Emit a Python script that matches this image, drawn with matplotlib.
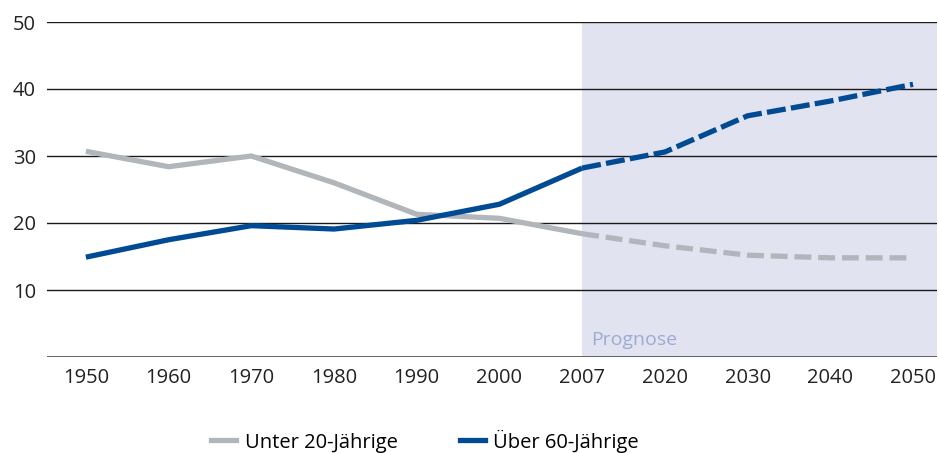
import matplotlib
matplotlib.use("Agg")
import matplotlib.pyplot as plt
from matplotlib.lines import Line2D

plt.rcParams['font.family'] = ['Open Sans', 'DejaVu Sans']

years = ["1950", "1960", "1970", "1980", "1990", "2000", "2007", "2020", "2030", "2040", "2050"]
unter20 = [30.7, 28.4, 30.0, 26.0, 21.3, 20.7, 18.4, 16.6, 15.2, 14.8, 14.8]
ueber60 = [14.9, 17.5, 19.6, 19.1, 20.4, 22.8, 28.2, 30.6, 36.0, 38.2, 40.7]
yticks = [10, 20, 30, 40, 50]
split = 6  # index of 2007, start of forecast

GRAY = "#b1b6bb"
BLUE = "#004b93"
FS = 14.5

fig = plt.figure(figsize=(9.39, 4.53), dpi=100)
ax = fig.add_axes([47/939, 1-357/453, (937-47)/939, (357-22)/453])

x = list(range(len(years)))
ax.set_xlim(-0.47, 10.29)
ax.set_ylim(0, 50)

ax.axvspan(split, 10.29, color="#e1e4f0", zorder=0, lw=0)
for v in yticks:
    ax.axhline(v, color="#1a1a1a", lw=1.0, zorder=1)
ax.axhline(0, color="#555555", lw=2.0, zorder=1)

lw = 3.8
ax.plot(x[:split+1], unter20[:split+1], color=GRAY, lw=lw, solid_capstyle="butt", solid_joinstyle="round", zorder=3)
ax.plot(x[split:], unter20[split:], color=GRAY, lw=lw, dashes=(3.2, 1.3), dash_capstyle="butt", zorder=3)
ax.plot(x[:split+1], ueber60[:split+1], color=BLUE, lw=lw, solid_capstyle="butt", solid_joinstyle="round", zorder=4)
ax.plot(x[split:], ueber60[split:], color=BLUE, lw=lw, dashes=(3.6, 1.0), dash_capstyle="butt", zorder=4)

ax.text(split + 0.11, 1.2, "Prognose", color="#9eaad2", fontsize=14, ha="left", va="bottom")

for s in ax.spines.values():
    s.set_visible(False)
ax.set_xticks(x)
ax.set_xticklabels(years, fontsize=FS, color="#222222")
ax.set_yticks(yticks)
ax.set_yticklabels([str(v) for v in yticks], fontsize=FS, color="#222222")
ax.tick_params(axis="both", length=0)
ax.tick_params(axis="x", pad=8)
ax.tick_params(axis="y", pad=8)

handles = [Line2D([], [], color=GRAY, lw=lw), Line2D([], [], color=BLUE, lw=lw)]
fig.legend(handles, ["Unter 20-Jährige", "Über 60-Jährige"], loc="center",
           bbox_to_anchor=(425/939, 1-441/453), ncol=2, frameon=False,
           fontsize=FS, handlelength=1.25, handletextpad=0.4, columnspacing=3.1)

fig.savefig("out.png", dpi=100)
